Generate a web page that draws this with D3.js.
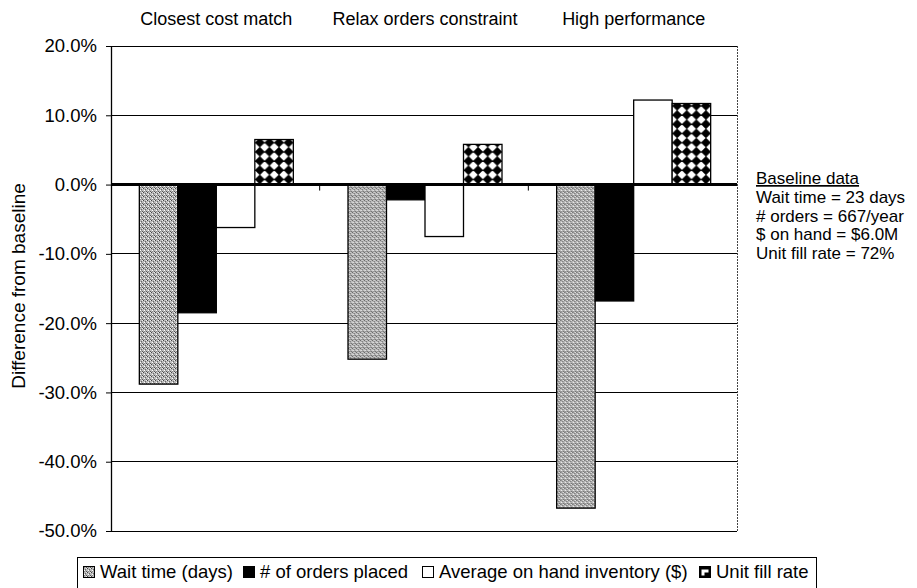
<!DOCTYPE html>
<html>
<head>
<meta charset="utf-8">
<script src="https://cdn.jsdelivr.net/npm/d3@7/dist/d3.min.js"></script>
<style>
  html, body { margin: 0; padding: 0; background: #fff; }
  svg { display: block; font-family: "Liberation Sans", Arial, sans-serif; }
</style>
</head>
<body>
<svg id="chart" width="917" height="588"></svg>
<script>
// ---- data ----
const categories = ["Closest cost match", "Relax orders constraint", "High performance"];
const series = ["Wait time (days)", "# of orders placed", "Average on hand inventory ($)", "Unit fill rate"];
const waitTime = [-0.288, -0.252, -0.467];
const ordersPlaced = [-0.185, -0.022, -0.168];
const onHandInventory = [-0.062, -0.075, 0.122];
const unitFillRate = [0.065, 0.058, 0.117];
const yTicks = [0.2, 0.1, 0.0, -0.1, -0.2, -0.3, -0.4, -0.5];
const yTitle = "Difference from baseline";
const baselineTitle = "Baseline data";
const baselineLines = ["Wait time = 23 days", "# orders = 667/year", "$ on hand = $6.0M", "Unit fill rate = 72%"];

const seriesValues = [waitTime, ordersPlaced, onHandInventory, unitFillRate];

// ---- layout ----
const svg = d3.select("#chart");
const plot = { left: 111, right: 737, top: 46, bottom: 531 };

const defs = svg.append("defs");
// dithered gray
const pg = defs.append("pattern").attr("id", "pGray").attr("patternUnits", "userSpaceOnUse")
  .attr("width", 4).attr("height", 4);
pg.append("rect").attr("width", 4).attr("height", 4).attr("fill", "#bcbcbc");
[[0,0,"#444"],[2,1,"#666"],[1,2,"#fff"],[3,3,"#555"],[3,0,"#eee"],[1,3,"#888"],[2,2,"#999"]].forEach(([px,py,c]) =>
  pg.append("rect").attr("x", px).attr("y", py).attr("width", 1).attr("height", 1).attr("fill", c));
// diamond pattern: black diamonds on white
const pw = 9.6, ph = 9.2;
const pd = defs.append("pattern").attr("id", "pDiamond").attr("patternUnits", "userSpaceOnUse")
  .attr("width", pw).attr("height", ph).attr("x", 0).attr("y", 0);
pd.append("rect").attr("width", pw).attr("height", ph).attr("fill", "#fff");
const hx = pw * 0.53, hy = ph * 0.53, cx = pw / 2, cy = ph / 2;
pd.append("path").attr("d", `M${cx},${cy - hy} L${cx + hx},${cy} L${cx},${cy + hy} L${cx - hx},${cy} Z`).attr("fill", "#000");
// small legend version
const ps = defs.append("pattern").attr("id", "pDiamondSmall").attr("patternUnits", "objectBoundingBox")
  .attr("width", 1).attr("height", 1);
ps.append("rect").attr("width", 11).attr("height", 11).attr("fill", "#000");
ps.append("path").attr("d", "M2,3 L9,3 L9,6 L5,6 L5,9 L2,9 Z").attr("fill", "#fff");

const fills = ["url(#pGray)", "#000", "#fff", "url(#pDiamond)"];
const legendFills = ["url(#pGray)", "#000", "#fff", "url(#pDiamondSmall)"];

const y = d3.scaleLinear().domain([-0.5, 0.2]).range([plot.bottom, plot.top]);
const x0 = d3.scaleBand().domain(categories).range([plot.left, plot.right]).paddingInner(0).paddingOuter(0);
const x1 = d3.scaleBand().domain(series).range([0, x0.bandwidth()]).paddingInner(0).paddingOuter(0.71);

// gridlines
svg.append("g").selectAll("line").data(yTicks).join("line")
  .attr("x1", plot.left).attr("x2", plot.right)
  .attr("y1", d => y(d)).attr("y2", d => y(d))
  .attr("stroke", "#000").attr("stroke-width", 1).attr("shape-rendering", "crispEdges");

// right border
svg.append("line").attr("x1", plot.right).attr("x2", plot.right)
  .attr("y1", plot.top).attr("y2", plot.bottom)
  .attr("stroke", "#444").attr("stroke-width", 1).attr("stroke-dasharray", "2,1")
  .attr("shape-rendering", "crispEdges");

// bars
const groups = svg.append("g").selectAll("g").data(categories).join("g")
  .attr("transform", c => `translate(${x0(c)},0)`);
groups.selectAll("rect").data((c, ci) => series.map((s, si) => ({ s, si, v: seriesValues[si][ci] })))
  .join("rect")
  .attr("x", d => x1(d.s) + 1)
  .attr("width", x1.bandwidth())
  .attr("y", d => y(Math.max(0, d.v)))
  .attr("height", d => Math.abs(y(d.v) - y(0)))
  .attr("fill", d => fills[d.si])
  .attr("stroke", "#000").attr("stroke-width", 1.3);

// y axis
const fmt = d3.format(".1%");
const yAxis = d3.axisLeft(y).tickValues(yTicks).tickFormat(d => fmt(d).replace("\u2212", "-")).tickSize(5).tickSizeOuter(0);
const ya = svg.append("g").attr("transform", `translate(${plot.left},0)`).call(yAxis);
ya.select(".domain").attr("stroke", "#000").attr("stroke-width", 1.3);
ya.selectAll(".tick line").attr("stroke", "#000");
ya.selectAll(".tick text").attr("font-size", 18.5).attr("fill", "#000").attr("x", -14)
  .attr("font-family", "Liberation Sans, Arial, sans-serif");

// zero line (category axis)
svg.append("line").attr("x1", plot.left).attr("x2", plot.right)
  .attr("y1", y(0)).attr("y2", y(0)).attr("stroke", "#000").attr("stroke-width", 3);
const catTicks = categories.slice(1).map(c => x0(c));
svg.append("g").selectAll("line").data(catTicks).join("line")
  .attr("x1", d => d).attr("x2", d => d).attr("y1", y(0)).attr("y2", y(0) + 6)
  .attr("stroke", "#000").attr("stroke-width", 1);

// category labels at top
svg.append("g").selectAll("text").data(categories).join("text")
  .attr("x", c => x0(c) + x0.bandwidth() / 2 + 1).attr("y", 25)
  .attr("text-anchor", "middle").attr("font-size", 18).text(c => c);

// y title
svg.append("text").attr("transform", `translate(25,${(180 + 392) / 2}) rotate(-90)`)
  .attr("text-anchor", "middle").attr("font-size", 19).text(yTitle);

// baseline annotation
const ann = svg.append("g").attr("transform", "translate(756,0)").attr("font-size", 17);
ann.append("text").attr("y", 184).attr("text-decoration", "underline").text(baselineTitle);
ann.selectAll("text.bl").data(baselineLines).join("text").attr("class", "bl")
  .attr("y", (d, i) => 203 + i * 18.5).text(d => d);

// legend
const lg = svg.append("g");
lg.append("rect").attr("x", 77.5).attr("y", 557.5).attr("width", 739).attr("height", 40)
  .attr("fill", "#fff").attr("stroke", "#000").attr("stroke-width", 1);
const legendX = [83, 243, 422, 699];
const items = lg.selectAll("g").data(series).join("g")
  .attr("transform", (d, i) => `translate(${legendX[i]},0)`);
items.append("rect").attr("x", 0.5).attr("y", 566.5).attr("width", 11).attr("height", 11)
  .attr("fill", (d, i) => legendFills[i]).attr("stroke", "#000").attr("stroke-width", 1);
items.append("text").attr("x", 17).attr("y", 578).attr("font-size", 18.5)
  .text(d => d);
</script>
</body>
</html>
